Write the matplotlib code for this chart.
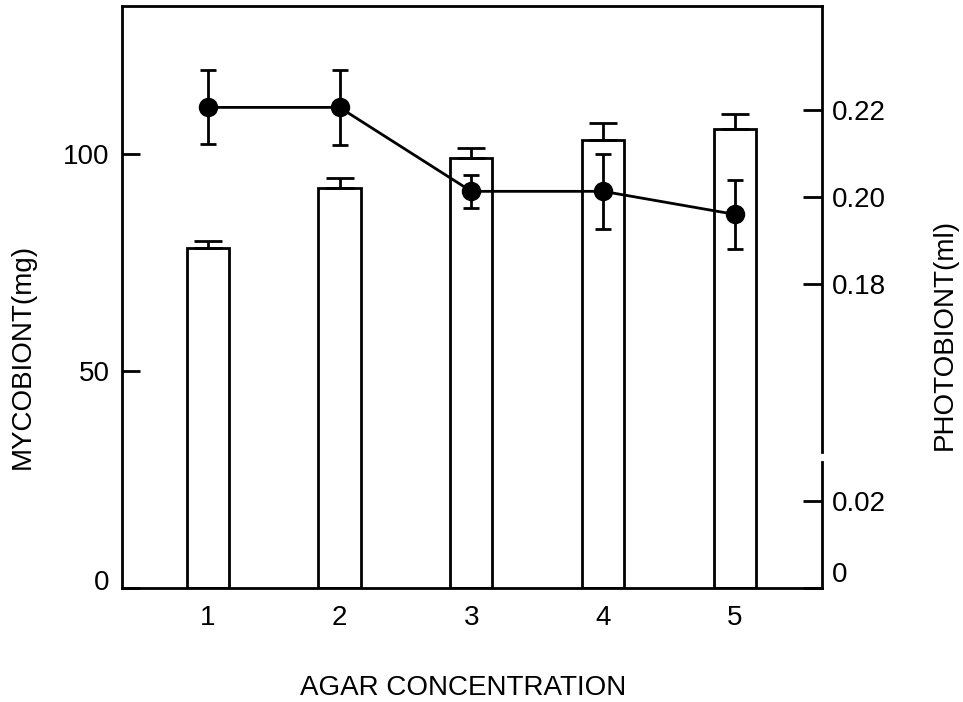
import matplotlib
matplotlib.use("Agg")
import matplotlib.pyplot as plt
import matplotlib.transforms as mtransforms

plt.rcParams['font.family'] = ['Liberation Sans', 'DejaVu Sans']

# data
agar = [1, 2, 3, 4, 5]
myco = [78.2, 92.0, 99.0, 103.1, 105.7]      # mg
myco_err = [1.6, 2.3, 2.2, 3.9, 3.5]
photo = [0.2206, 0.2206, 0.2013, 0.2013, 0.1960]   # ml
photo_err = [0.0085, 0.0087, 0.0038, 0.0086, 0.0079]

W, H = 963, 702
fig = plt.figure(figsize=(W / 100, H / 100), dpi=100)

# pixel frame of the plot
x0, x1 = 122, 822
ytop, ybot = 6, 588
brk_hi, brk_lo = 451.7, 461.7   # break in right axis
scale = 4350.0                  # px per ml on right axis
lw = 2.0

def fax(l, t, r, b):
    return [l / W, (H - b) / H, (r - l) / W, (b - t) / H]

ax = fig.add_axes(fax(x0, ytop, x1, ybot))
ax.bar(agar, myco, width=0.32, color='white', edgecolor='black', linewidth=lw,
       yerr=[[0] * 5, myco_err], error_kw=dict(ecolor='black', elinewidth=lw,
                                               capsize=10, capthick=lw))
ax.set_xlim(0.35, 5.66)
ax.set_ylim(0, 134)
ax.set_yticks([0, 50, 100])
ax.set_xticks(agar)
ax.tick_params(axis='y', direction='in', length=13, width=lw, pad=9, labelsize=20)
ax.tick_params(axis='x', length=0, pad=12, labelsize=20)
ax.spines['right'].set_visible(False)
for s in ['left', 'top', 'bottom']:
    ax.spines[s].set_linewidth(lw)
# lift the "0" label a little, as in the reference
lab0 = ax.get_yticklabels()[0]
lab0.set_transform(lab0.get_transform() + mtransforms.ScaledTranslation(0, 8 / 100, fig.dpi_scale_trans))

# right axis, upper part
lo_up = 0.22 - (brk_hi - 110) / scale
ax_up = fig.add_axes(fax(x0, ytop, x1, brk_hi))
ax_up.set_ylim(lo_up, lo_up + (brk_hi - ytop) / scale)
# right axis, lower part
ax_lo = fig.add_axes(fax(x0, brk_lo, x1, ybot))
ax_lo.set_ylim(0, (ybot - brk_lo) / scale)

for a in (ax_up, ax_lo):
    a.set_xlim(0.35, 5.66)
    a.patch.set_visible(False)
    for s in ['left', 'top', 'bottom']:
        a.spines[s].set_visible(False)
    a.spines['right'].set_linewidth(lw)
    a.yaxis.tick_right()
    a.set_xticks([])
    a.tick_params(axis='y', direction='in', length=14, width=lw, pad=7, labelsize=20)

ax_up.set_yticks([0.18, 0.20, 0.22])
ax_up.set_yticklabels(['0.18', '0.20', '0.22'])
ax_lo.set_yticks([0, 0.02])
ax_lo.set_yticklabels(['0', '0.02'])
r0 = ax_lo.get_yticklabels()[0]
r0.set_transform(r0.get_transform() + mtransforms.ScaledTranslation(0, 16 / 100, fig.dpi_scale_trans))

ax_up.errorbar(agar, photo, yerr=photo_err, color='black', linewidth=lw,
               marker='o', markersize=13, elinewidth=lw, capsize=6, capthick=lw)

fig.text(23 / W, 1 - 356 / H, 'MYCOBIONT(mg)', rotation=90, fontsize=20,
         ha='center', va='center')
fig.text(945 / W, 1 - 334 / H, 'PHOTOBIONT(ml)', rotation=90, fontsize=20,
         ha='center', va='center')
fig.text(463 / W, 1 - 688 / H, 'AGAR CONCENTRATION', fontsize=20,
         ha='center', va='center')

fig.savefig('out.png', dpi=100)
